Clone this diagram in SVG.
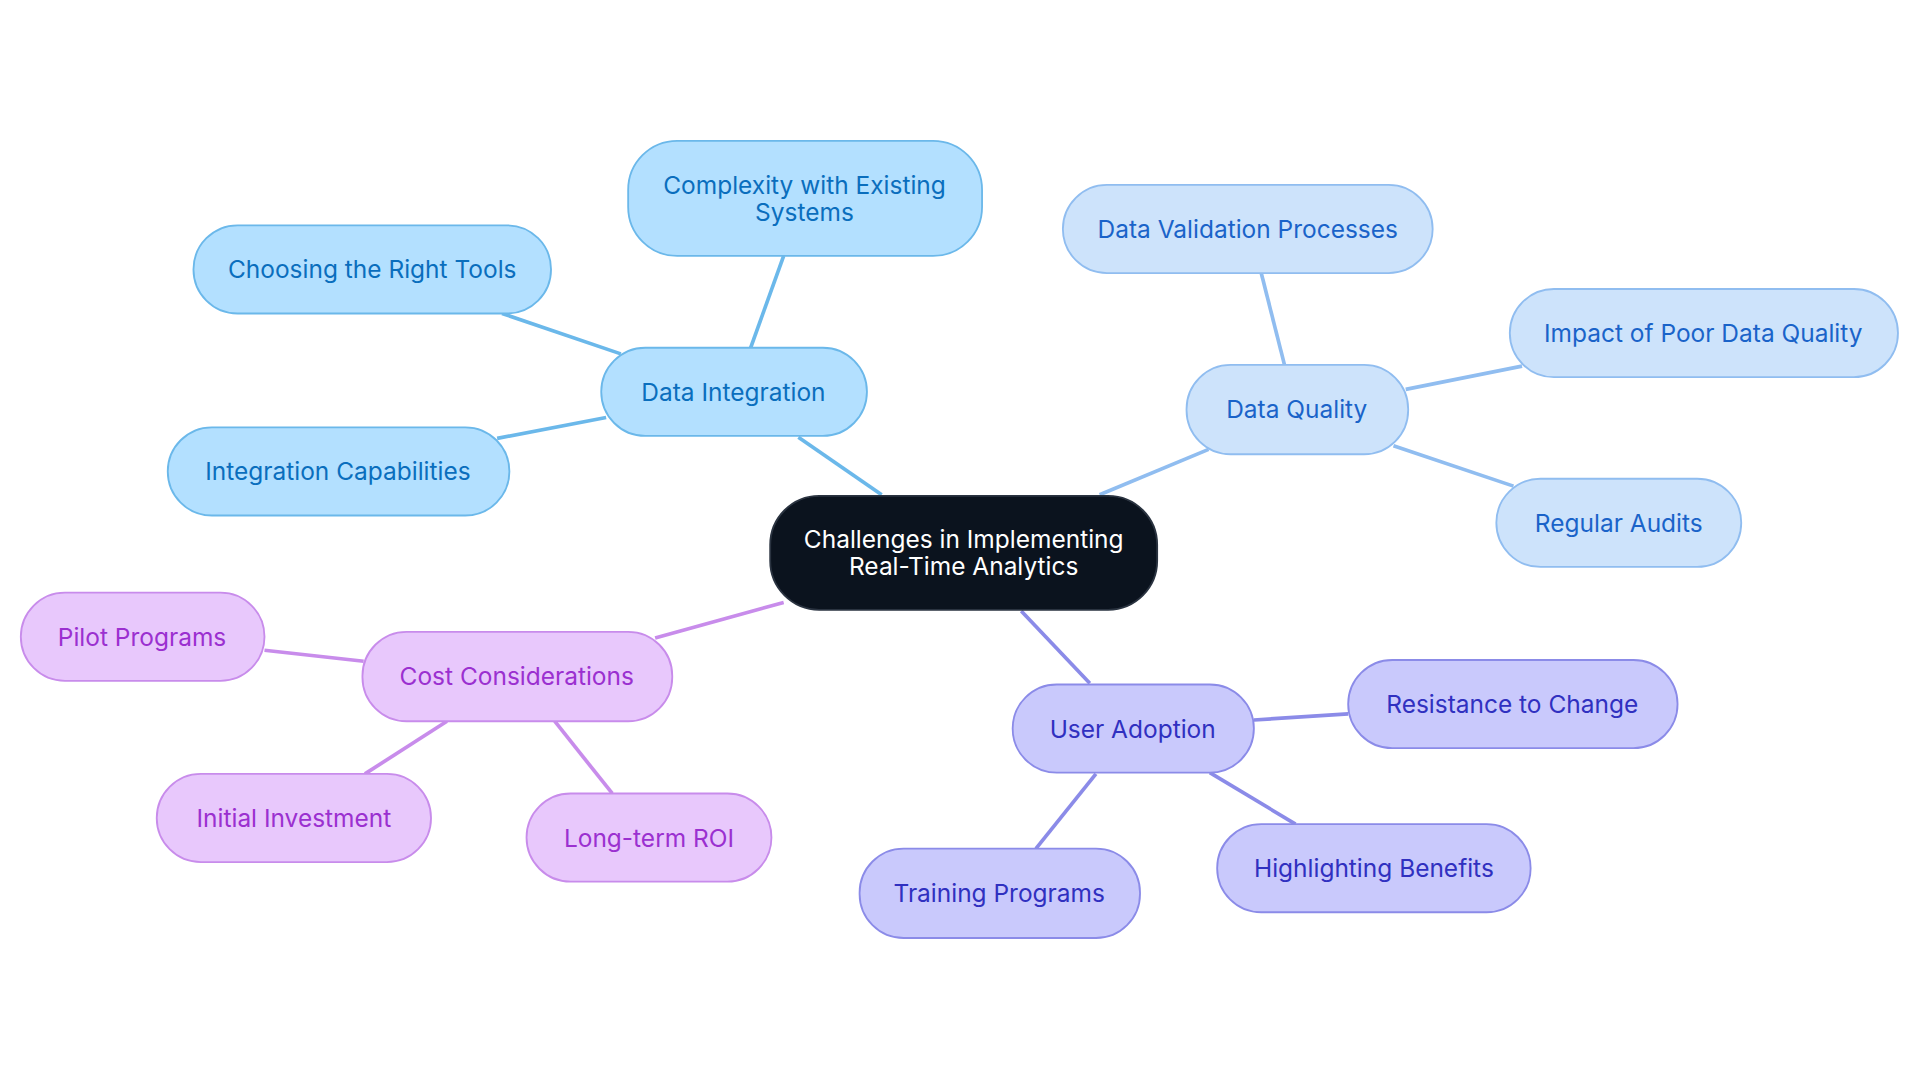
<svg xmlns="http://www.w3.org/2000/svg" width="1920" height="1083" viewBox="0 0 1920 1083">
<style>
text{font-family:Inter,"Noto Sans",sans-serif;font-size:20px;text-anchor:middle;dominant-baseline:central}
.c rect{fill:#0b131e;stroke:#2a3340;stroke-width:1.5}.c text{fill:#fff}
.b rect{fill:#b3e0ff;stroke:#6bb8ea;stroke-width:1.5}.b text{fill:#0a6ebd}
.q rect{fill:#cde3fb;stroke:#90bdf0;stroke-width:1.5}.q text{fill:#1a63c9}
.u rect{fill:#c9c9fc;stroke:#8b8be8;stroke-width:1.5}.u text{fill:#3030c0}
.p rect{fill:#e8c8fc;stroke:#c88ceb;stroke-width:1.5}.p text{fill:#9b30d0}
#edges line{stroke-width:3}
.eb{stroke:#6bb8ea}.eq{stroke:#90bdf0}.eu{stroke:#8b8be8}.ep{stroke:#c88ceb}
</style>
<rect width="1920" height="1083" fill="#fff"/>
<g transform="scale(1.2245)">
<g id="edges">
<line class="eb" x1="720" y1="404" x2="652" y2="357"/>
<line class="eb" x1="613" y1="284" x2="640" y2="209"/>
<line class="eb" x1="507" y1="289" x2="410" y2="256"/>
<line class="eb" x1="495" y1="341" x2="406" y2="358"/>
<line class="eq" x1="898" y1="404" x2="987" y2="367"/>
<line class="eq" x1="1049" y1="298" x2="1030" y2="223"/>
<line class="eq" x1="1148" y1="318" x2="1243" y2="299"/>
<line class="eq" x1="1138" y1="364" x2="1236" y2="397"/>
<line class="eu" x1="834" y1="499" x2="890" y2="558"/>
<line class="eu" x1="1024" y1="588" x2="1101" y2="583"/>
<line class="eu" x1="988" y1="631" x2="1058" y2="673"/>
<line class="eu" x1="895" y1="632" x2="846" y2="693"/>
<line class="ep" x1="640" y1="492" x2="535" y2="521"/>
<line class="ep" x1="297" y1="540" x2="216" y2="531"/>
<line class="ep" x1="365" y1="589" x2="298" y2="632"/>
<line class="ep" x1="453" y1="589" x2="500" y2="648"/>
</g>
<g id="center" class="c"><rect x="629" y="405" width="316" height="93" rx="40"/><text x="787" y="440">Challenges in Implementing</text><text x="787" y="462">Real-Time Analytics</text></g>
<g id="di" class="b"><rect x="491" y="284" width="217" height="72" rx="36"/><text x="599" y="320">Data Integration</text></g>
<g id="complexity" class="b"><rect x="513" y="115" width="289" height="94" rx="40"/><text x="657" y="151">Complexity with Existing</text><text x="657" y="173">Systems</text></g>
<g id="choosing" class="b"><rect x="158" y="184" width="292" height="72" rx="36"/><text x="304" y="220">Choosing the Right Tools</text></g>
<g id="intcap" class="b"><rect x="137" y="349" width="279" height="72" rx="36"/><text x="276" y="385">Integration Capabilities</text></g>
<g id="dq" class="q"><rect x="969" y="298" width="181" height="73" rx="36"/><text x="1059" y="334">Data Quality</text></g>
<g id="valid" class="q"><rect x="868" y="151" width="302" height="72" rx="36"/><text x="1019" y="187">Data Validation Processes</text></g>
<g id="impact" class="q"><rect x="1233" y="236" width="317" height="72" rx="36"/><text x="1391" y="272">Impact of Poor Data Quality</text></g>
<g id="audits" class="q"><rect x="1222" y="391" width="200" height="72" rx="36"/><text x="1322" y="427">Regular Audits</text></g>
<g id="ua" class="u"><rect x="827" y="559" width="197" height="72" rx="36"/><text x="925" y="595">User Adoption</text></g>
<g id="resist" class="u"><rect x="1101" y="539" width="269" height="72" rx="36"/><text x="1235" y="575">Resistance to Change</text></g>
<g id="high" class="u"><rect x="994" y="673" width="256" height="72" rx="36"/><text x="1122" y="709">Highlighting Benefits</text></g>
<g id="train" class="u"><rect x="702" y="693" width="229" height="73" rx="36"/><text x="816" y="729">Training Programs</text></g>
<g id="cost" class="p"><rect x="296" y="516" width="253" height="73" rx="36"/><text x="422" y="552">Cost Considerations</text></g>
<g id="pilot" class="p"><rect x="17" y="484" width="199" height="72" rx="36"/><text x="116" y="520">Pilot Programs</text></g>
<g id="initial" class="p"><rect x="128" y="632" width="224" height="72" rx="36"/><text x="240" y="668">Initial Investment</text></g>
<g id="roi" class="p"><rect x="430" y="648" width="200" height="72" rx="36"/><text x="530" y="684">Long-term ROI</text></g>
</g>
</svg>
